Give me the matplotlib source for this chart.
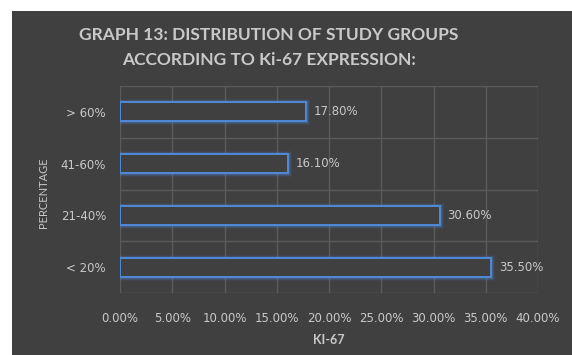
import matplotlib
matplotlib.use("Agg")
import matplotlib.pyplot as plt
from matplotlib.patches import Rectangle

categories = ["< 20%", "21-40%", "41-60%", "> 60%"]
values = [35.5, 30.6, 16.1, 17.8]
x_ticks = [0, 5, 10, 15, 20, 25, 30, 35, 40]
x_tick_labels = [f"{v:.2f}%" for v in x_ticks]

W, H = 572, 355
BG = "#404040"
GRID = "#5a5a5a"
TEXT = "#c9c9c9"
BLUE = "#4f8ad8"
NUM_FONT = ["DejaVu Sans"]

plt.rcParams["font.family"] = ["Lato", "DejaVu Sans"]

fig = plt.figure(figsize=(W / 100, H / 100), dpi=100, facecolor="white")

# dark chart panel
fig.patches.append(Rectangle((12 / W, 0), 1 - 12 / W, 1 - 11 / H,
                             transform=fig.transFigure, facecolor=BG,
                             edgecolor="none", zorder=-5))

ax = fig.add_axes([120 / W, (H - 293) / H, 418 / W, 207 / H])
ax.set_zorder(2)
ax.set_facecolor(BG)
ax.set_xlim(0, 40)
ax.set_ylim(-0.5, len(categories) - 0.5)

# grid lines
for x in x_ticks:
    ax.axvline(x, color=GRID, lw=1.0, zorder=1)
for y in [-0.5, 0.5, 1.5, 2.5, 3.5]:
    ax.axhline(y, color=GRID, lw=1.0, zorder=1)

pos = list(range(len(categories)))
# soft glow around the outlined bars
for lw, a in [(5, 0.08), (3.5, 0.15), (2.5, 0.25)]:
    ax.barh(pos, values, height=0.37, color="none", edgecolor=BLUE,
            linewidth=lw, alpha=a, zorder=2)
ax.barh(pos, values, height=0.37, color=BG, edgecolor=BLUE,
        linewidth=1.4, zorder=3)

for p, v in zip(pos, values):
    ax.text(v + 0.75, p, f"{v:.2f}%", va="center", ha="left",
            color=TEXT, fontsize=8.5, family=NUM_FONT, zorder=4)

ax.set_xticks(x_ticks)
ax.set_xticklabels(x_tick_labels, color=TEXT, fontsize=8.5, family=NUM_FONT)
ax.set_yticks(pos)
ax.set_yticklabels(categories, color=TEXT, fontsize=8.5, family=NUM_FONT)
ax.tick_params(length=0)
ax.tick_params(axis="x", pad=14)
ax.tick_params(axis="y", pad=10)
for s in ax.spines.values():
    s.set_visible(False)

ax.set_xlabel("KI-67", color=TEXT, fontsize=9, fontweight="bold", labelpad=6)
fig.text(43 / W, 1 - 193 / H, "PERCENTAGE", rotation=90, ha="center",
         va="center", color=TEXT, fontsize=8)

fig.text(269 / W, 1 - 35 / H, "GRAPH 13: DISTRIBUTION OF STUDY GROUPS",
         ha="center", va="center", color=TEXT, fontsize=12.5, fontweight="bold")
fig.text(269 / W, 1 - 60 / H, "ACCORDING TO Ki-67 EXPRESSION:",
         ha="center", va="center", color=TEXT, fontsize=12.5, fontweight="bold")

fig.savefig("out.png", dpi=100, facecolor="white")
